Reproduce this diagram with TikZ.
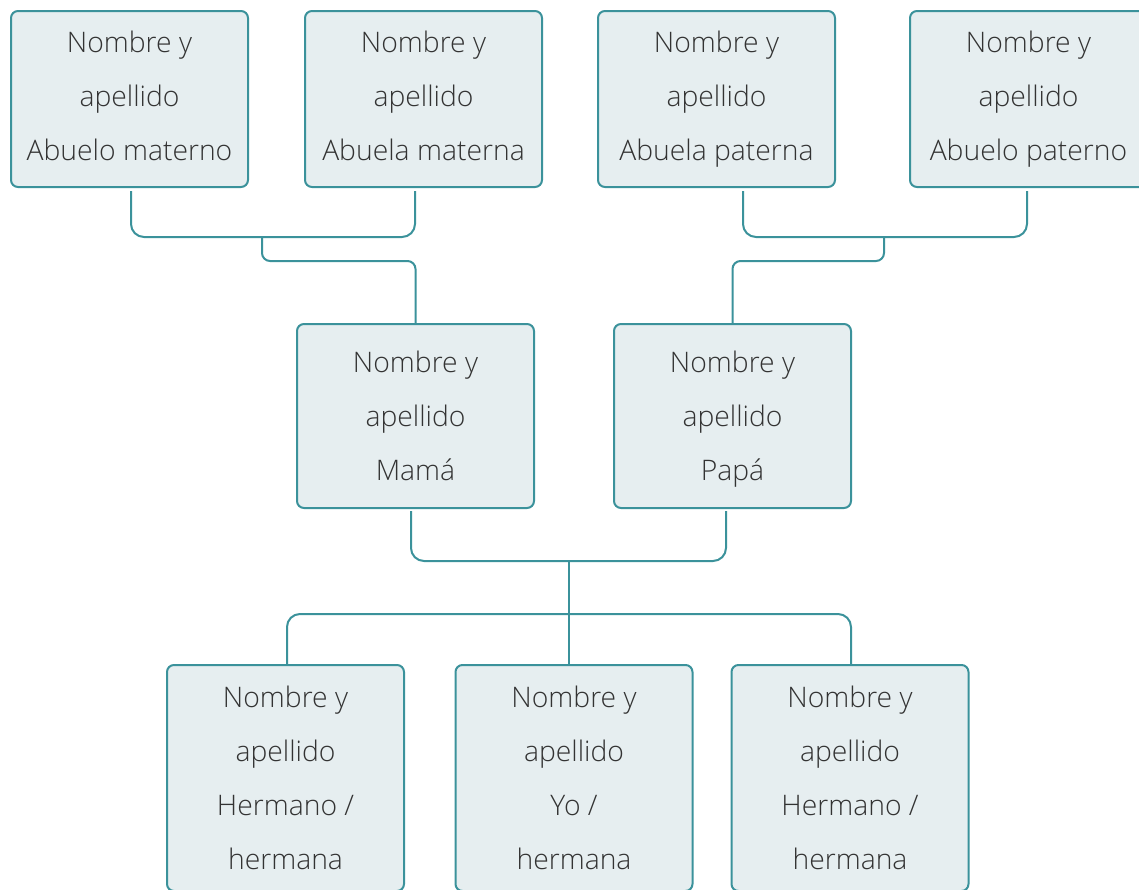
\documentclass[tikz,border=0pt]{standalone}
\usepackage{fontspec}
\IfFontExistsTF{Open Sans Light}{\setmainfont{Open Sans Light}}{\setmainfont{Open Sans}}
\definecolor{tealline}{HTML}{3B929B}
\definecolor{boxfill}{HTML}{E6EEF0}
\definecolor{txtgray}{HTML}{333333}
\newcommand{\nodepth}[1]{\raisebox{0pt}[\height][0pt]{#1}}
\tikzset{
  person/.style={draw=tealline, line width=2pt, fill=boxfill, rounded corners=7pt,
    minimum width=237pt, inner sep=0pt, align=center,
    font=\fontsize{28.3}{54}\selectfont, text=txtgray},
  conn/.style={draw=tealline, line width=2pt, rounded corners=13pt},
  connsmall/.style={draw=tealline, line width=2pt, rounded corners=8pt}
}
\begin{document}
\begin{tikzpicture}[x=1pt,y=-1pt]
\useasboundingbox (0,0) rectangle (1139,889);
% grandparents
\node[person, minimum height=176pt] (g1) at (129.5,99) {Nombre y\\apellido\\Abuelo materno\vphantom{p}};
\node[person, minimum height=176pt] (g2) at (423.5,99) {Nombre y\\apellido\\Abuela materna\vphantom{p}};
\node[person, minimum height=176pt] (g3) at (716.5,99) {Nombre y\\apellido\\Abuela paterna};
\node[person, minimum height=176pt] (g4) at (1028.5,99) {Nombre y\\apellido\\Abuelo paterno};
% parents
\node[person, minimum height=184pt] (mom) at (415.5,416) {Nombre y\\apellido\\Mamá};
\node[person, minimum height=184pt] (dad) at (732.5,416) {Nombre y\\apellido\\\nodepth{Papá}};
% children
\node[person, minimum height=226pt] (s1) at (285.5,778) {Nombre y\\apellido\\Hermano /\\hermana};
\node[person, minimum height=226pt] (s2) at (574,778) {Nombre y\\apellido\\Yo /\\hermana};
\node[person, minimum height=226pt] (s3) at (850,778) {Nombre y\\apellido\\Hermano /\\hermana};
% junctions
\coordinate (j1) at (262,237);
\coordinate (k1) at (262,261);
\coordinate (j2) at (884,237);
\coordinate (k2) at (884,261);
\coordinate (j3) at (569,561);
\coordinate (bar) at (569,614);
% maternal grandparents
\draw[conn] ([xshift=1.5pt,yshift=-3pt]g1.south) |- (j1) -| ([xshift=-8.5pt,yshift=-3pt]g2.south);
\draw[connsmall] (j1) -- (k1) -| (mom.north);
% paternal grandparents
\draw[conn] ([xshift=26.5pt,yshift=-3pt]g3.south) |- (j2) -| ([xshift=-1.5pt,yshift=-3pt]g4.south);
\draw[connsmall] (j2) -- (k2) -| (dad.north);
% parents
\draw[conn] ([xshift=-4.5pt,yshift=-2pt]mom.south) |- (j3) -| ([xshift=-6.5pt,yshift=-2pt]dad.south);
\draw[conn] (j3) -- ([xshift=-5pt]s2.north);
% siblings bar
\draw[conn] ([xshift=1.5pt]s1.north) |- (bar) -| ([xshift=1pt]s3.north);
\end{tikzpicture}
\end{document}
